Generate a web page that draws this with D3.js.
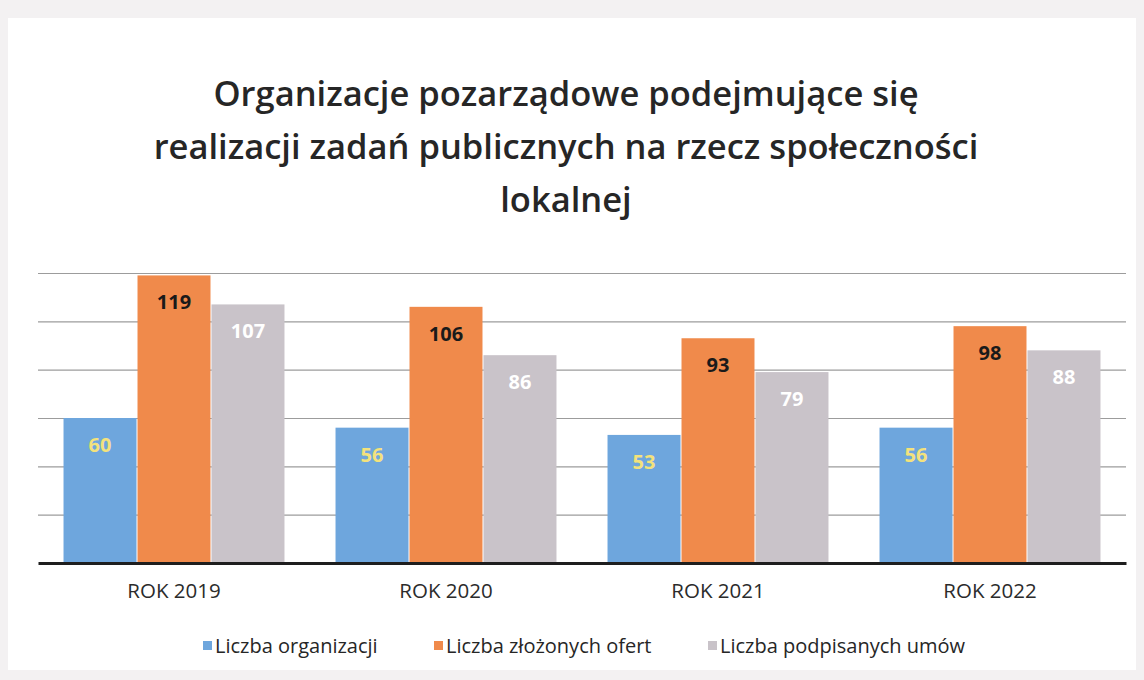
<!DOCTYPE html>
<html>
<head>
<meta charset="utf-8">
<script src="https://cdn.jsdelivr.net/npm/d3@7"></script>
<style>
  html, body { margin: 0; padding: 0; background: #f3f1f2; }
  svg { display: block; }
  text { font-family: "Open Sans", "Noto Sans", sans-serif; }
</style>
</head>
<body>
<div id="chart"></div>
<script>
// dane z wykresu
const lata = ["ROK 2019", "ROK 2020", "ROK 2021", "ROK 2022"];
const serie = ["Liczba organizacji", "Liczba złożonych ofert", "Liczba podpisanych umów"];
const organizacje = [60, 56, 53, 56];
const oferty = [119, 106, 93, 98];
const umowy = [107, 86, 79, 88];
const tytul = ["Organizacje pozarządowe podejmujące się",
               "realizacji zadań publicznych na rzecz społeczności",
               "lokalnej"];

const kolory = ["#6ea6dd", "#f08a4b", "#c9c3c9"];
const koloryEtykiet = ["#f3e27c", "#1a1a1a", "#ffffff"];

const width = 1144, height = 680;
const margin = { top: 273, right: 18, bottom: 117, left: 38 };
const innerW = width - margin.left - margin.right;
const innerH = height - margin.top - margin.bottom;

const dane = lata.map((rok, i) => ({
    rok: rok,
    wartosci: [organizacje[i], oferty[i], umowy[i]]
}));

const svg = d3.select("#chart").append("svg")
    .attr("width", width)
    .attr("height", height);

// tło wykresu
svg.append("rect")
    .attr("x", 8).attr("y", 18)
    .attr("width", width - 16).attr("height", height - 28)
    .attr("fill", "#ffffff");

// tytuł
svg.append("g").selectAll("text")
    .data(tytul)
    .join("text")
    .attr("x", width / 2 - 6)
    .attr("y", (d, i) => 106 + i * 53)
    .attr("text-anchor", "middle")
    .attr("font-size", "34.5px")
    .attr("font-weight", "600")
    .attr("fill", "#262626")
    .text(d => d);

const g = svg.append("g")
    .attr("transform", `translate(${margin.left},${margin.top})`);

const x0 = d3.scaleBand()
    .domain(lata)
    .range([0, innerW])
    .paddingInner(0.184)
    .paddingOuter(0.092);

const x1 = d3.scaleBand()
    .domain(d3.range(serie.length))
    .range([0, x0.bandwidth()])
    .padding(0);

const y = d3.scaleLinear()
    .domain([0, 120])
    .range([innerH, 0]);

// linie siatki
g.append("g")
    .call(d3.axisLeft(y).tickValues(d3.range(20, 121, 20)).tickSize(-innerW).tickFormat(""))
    .call(s => s.select(".domain").remove())
    .call(s => s.selectAll(".tick line").attr("stroke", "#9c9c9c").attr("stroke-width", 1.2));

// słupki
const grupy = g.selectAll(".grupa")
    .data(dane)
    .join("g")
    .attr("class", "grupa")
    .attr("transform", d => `translate(${x0(d.rok)},0)`);

grupy.selectAll("rect")
    .data(d => d.wartosci.map((v, i) => ({ i: i, v: v })))
    .join("rect")
    .attr("x", d => x1(d.i) + 0.5)
    .attr("y", d => y(d.v))
    .attr("width", x1.bandwidth() - 1)
    .attr("height", d => innerH - y(d.v))
    .attr("fill", d => kolory[d.i]);

grupy.selectAll("text")
    .data(d => d.wartosci.map((v, i) => ({ i: i, v: v })))
    .join("text")
    .attr("x", d => x1(d.i) + x1.bandwidth() / 2)
    .attr("y", d => y(d.v) + 34)
    .attr("text-anchor", "middle")
    .attr("font-size", "20px")
    .attr("font-weight", "bold")
    .attr("fill", d => koloryEtykiet[d.i])
    .text(d => d.v);

// oś X
const osX = g.append("g")
    .attr("transform", `translate(0,${innerH})`)
    .call(d3.axisBottom(x0).tickSize(0).tickPadding(20));
osX.select(".domain").attr("stroke", "#1e1e1e").attr("stroke-width", 3);
osX.selectAll("text")
    .attr("font-size", "20.5px")
    .attr("fill", "#2b2b2b")
    .style("font-family", "'Open Sans', sans-serif");

// legenda
const pozycjeLegendy = [203, 434, 708];
const legenda = svg.append("g")
    .selectAll("g")
    .data(serie)
    .join("g")
    .attr("transform", (d, i) => `translate(${pozycjeLegendy[i]},646)`);

legenda.append("rect")
    .attr("x", 0).attr("y", -5)
    .attr("width", 9).attr("height", 9)
    .attr("fill", (d, i) => kolory[i]);

legenda.append("text")
    .attr("x", 12)
    .attr("y", 7)
    .attr("font-size", "20px")
    .attr("fill", "#262626")
    .text(d => d);
</script>
</body>
</html>
